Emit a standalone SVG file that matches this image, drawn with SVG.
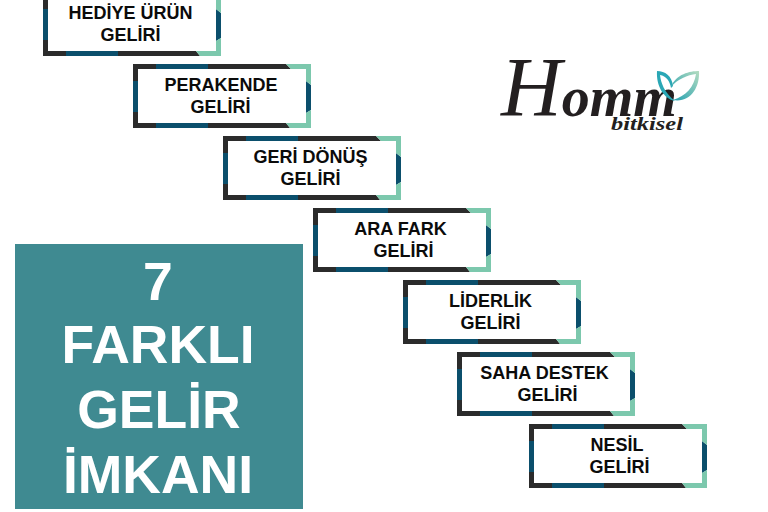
<svg xmlns="http://www.w3.org/2000/svg" width="768" height="512" viewBox="0 0 768 512">
<style>
.t{font-family:"Liberation Sans",Arial,sans-serif;font-weight:700;font-size:18px;fill:#0b0b0b;text-anchor:middle}
.h{font-family:"Liberation Sans",Arial,sans-serif;font-weight:700;font-size:53.5px;fill:#fff;text-anchor:middle}
.k{fill:#2b2b2b}.b{fill:#0b4f6c}.g{fill:#7cc8ad}
</style>
<defs>
<linearGradient id="leaf" x1="0" y1="1" x2="1" y2="0"><stop offset="0" stop-color="#1f9fb0"/><stop offset="1" stop-color="#b5dcc0"/></linearGradient>
<g id="frame">
<path class="k" d="M0 0H23V5H5V17H0ZM0 48H5V59H23V64H0ZM75 0H153L158 5H75ZM75 59H153L157 64H75Z"/>
<path class="b" d="M23 0H75V5H23ZM23 59H75V64H23ZM0 17H5V48H0ZM173 17L178 21V46L173 49Z"/>
<path class="g" d="M153 0H178V21L173 17V5H158ZM153 59H173V49L178 46V64H157Z"/>
</g>
</defs>
<rect width="768" height="512" fill="#fff"/>
<g id="headline">
<rect x="15" y="244" width="288" height="265" fill="#3f8a91"/>
<text class="h" x="158" y="300">7</text>
<text class="h" x="158" y="363">FARKLI</text>
<text class="h" x="159" y="428">GELİR</text>
<text class="h" x="158" y="493">İMKANI</text>
</g>
<g id="connectors"/>
<g id="node-hediye"><use href="#frame" x="43" y="-8"/><text class="t" x="130.500" y="19">HEDİYE ÜRÜN</text><text class="t" x="130.500" y="41">GELİRİ</text></g>
<g id="node-perakende"><use href="#frame" x="133" y="64"/><text class="t" x="221" y="91">PERAKENDE</text><text class="t" x="220.500" y="113">GELİRİ</text></g>
<g id="node-geri"><use href="#frame" x="223" y="136"/><text class="t" x="310.500" y="163">GERİ DÖNÜŞ</text><text class="t" x="310.500" y="185">GELİRİ</text></g>
<g id="node-ara"><use href="#frame" x="313" y="208"/><text class="t" x="400.500" y="235">ARA FARK</text><text class="t" x="403.500" y="257">GELİRİ</text></g>
<g id="node-liderlik"><use href="#frame" x="403" y="280"/><text class="t" x="490.500" y="307">LİDERLİK</text><text class="t" x="490.500" y="329">GELİRİ</text></g>
<g id="node-saha"><use href="#frame" x="457" y="352"/><text class="t" x="544.500" y="379">SAHA DESTEK</text><text class="t" x="547.500" y="401">GELİRİ</text></g>
<g id="node-nesil"><use href="#frame" x="529" y="424"/><text class="t" x="617" y="451">NESİL</text><text class="t" x="619.500" y="473">GELİRİ</text></g>
<g id="logo">
<text x="501" y="116" font-family="'Liberation Serif',serif" font-style="italic" fill="#231f20"><tspan font-size="84" font-weight="400">H</tspan><tspan font-size="56" font-weight="700">omm</tspan></text>
<text x="611" y="130" font-family="'Liberation Serif',serif" font-style="italic" font-weight="700" font-size="18" fill="#231f20" textLength="72" lengthAdjust="spacingAndGlyphs">bitkisel</text>
<path d="M657 71C665 71 672 76 673 86L671 88C670 81 666 76 660 75C661 83 664 92 675 101C664 99 656 86 657 71Z" fill="#2aa7b5"/>
<path d="M699 71C690 71 676 74 671 87C677 79 688 75 696 74C694 87 686 96 673 100C690 103 700 88 699 71Z" fill="url(#leaf)"/>
</g>
</svg>
